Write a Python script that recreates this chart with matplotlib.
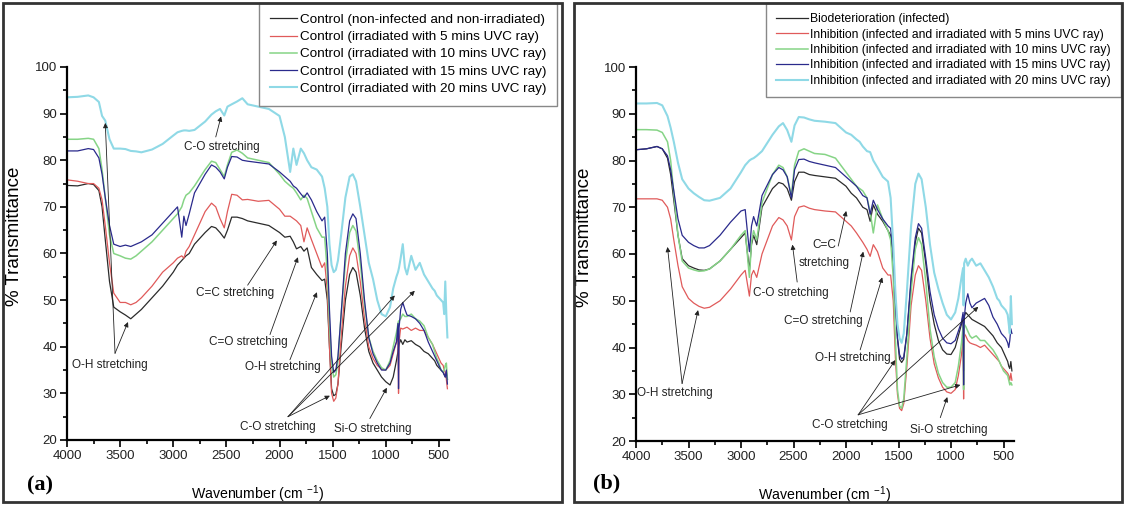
import matplotlib
matplotlib.use("Agg")
import matplotlib.pyplot as plt
from matplotlib.patches import Rectangle
from matplotlib.ticker import MultipleLocator

plt.rcParams['font.family'] = ['Liberation Sans', 'DejaVu Sans']
plt.rcParams['mathtext.default'] = 'regular'

# shared wavenumber grid (cm-1)
wavenumber = [4000, 3900, 3800, 3750, 3700, 3670, 3640, 3600, 3560, 3500,
              3450, 3400, 3350, 3300, 3200, 3100, 3000, 2960, 2920, 2900,
              2880, 2850, 2800, 2700, 2640, 2600, 2560, 2520, 2490, 2450,
              2400, 2350, 2300, 2200, 2100, 2000, 1950, 1900, 1870, 1840,
              1800, 1770, 1740, 1700, 1650, 1600, 1575, 1550, 1530, 1510,
              1490, 1470, 1450, 1420, 1380, 1340, 1310, 1280, 1240, 1200,
              1160, 1120, 1080, 1040, 1000, 960, 930, 900, 885, 880,
              875, 860, 840, 820, 800, 760, 720, 680, 640, 600,
              560, 540, 520, 500, 480, 460, 450, 440, 430, 420]

# panel (a) - controls
a_control = [74.6, 74.5, 75.0, 74.8, 73.5, 70.0, 63.0, 54.0, 48.5, 47.5,
             46.8, 46.0, 47.0, 48.0, 50.5, 53.0, 56.0, 57.5, 58.5, 59.0,
             59.5, 60.0, 62.0, 64.5, 65.8, 65.5, 64.5, 63.3, 65.0, 67.8,
             67.8, 67.5, 67.0, 66.5, 66.0, 64.5, 63.5, 63.7, 62.5, 61.0,
             61.5, 60.5, 61.2, 57.0, 55.5, 54.2, 54.5, 50.0, 40.0, 31.0,
             29.5, 29.8, 32.0, 40.0, 50.0, 55.5, 57.0, 56.0, 51.0, 44.0,
             39.0, 36.5, 35.0, 33.5, 32.5, 31.8, 33.5, 37.0, 39.0, 40.0,
             40.5, 41.5, 40.5, 41.5, 41.0, 41.3, 40.5, 40.0, 39.0, 38.5,
             37.5, 37.0, 36.0, 35.5, 35.0, 34.5, 34.0, 33.5, 34.5, 33.0]
a_uvc5 = [75.8, 75.5, 75.0, 75.0, 74.0, 71.5, 66.0, 58.0, 51.5, 49.5,
          49.5, 49.0, 49.5, 50.5, 53.0, 56.0, 58.0, 59.0, 59.5, 59.0,
          60.5, 61.5, 64.0, 69.0, 70.8, 70.0, 67.5, 65.5, 69.0, 72.7,
          72.5, 71.5, 71.6, 71.2, 71.4, 69.5, 68.0, 68.0, 67.5, 67.0,
          66.0, 62.5, 65.5, 63.0, 60.0, 57.0, 58.0, 52.0, 40.0, 30.0,
          28.3, 29.0, 32.0, 42.0, 53.0, 59.5, 61.2, 60.0, 54.0, 46.0,
          40.0, 37.5, 36.0, 35.2, 35.0, 36.0, 38.5, 41.0, 42.0, 30.0,
          41.0, 44.0, 43.8, 44.0, 44.2, 43.5, 44.0, 43.5, 43.5, 42.0,
          40.5, 39.5, 38.5, 37.5, 36.5, 36.0, 35.0, 34.5, 33.0, 31.0]
a_uvc10 = [84.5, 84.5, 84.7, 84.5, 82.5, 78.0, 72.0, 64.0, 60.0, 59.5,
           59.0, 58.8, 59.5, 60.5, 62.5, 65.0, 67.5, 68.5, 70.0, 71.5,
           72.5, 73.0, 74.5, 78.0, 79.8, 79.5, 78.0, 76.5, 79.0, 81.7,
           82.2, 81.5, 80.5, 80.0, 79.5, 77.0, 75.5, 74.5, 74.0, 73.0,
           71.5, 72.5, 71.8, 69.0, 65.5, 63.5, 63.5, 56.0, 45.0, 36.5,
           33.5, 34.0, 37.0, 47.0, 58.0, 64.5, 66.0, 64.8, 58.0, 49.0,
           42.0, 39.0, 37.0, 35.5, 35.0, 37.0, 40.0, 43.0, 45.0, 45.5,
           45.5, 46.0, 47.0, 46.5, 46.5, 47.0, 46.0, 45.5, 44.5, 42.0,
           40.5, 39.0, 37.5, 36.5, 35.0, 34.5, 35.0, 36.0, 36.5, 33.0]
a_uvc15 = [82.0, 82.0, 82.5, 82.3, 80.5, 77.0, 72.0, 66.0, 62.0, 61.5,
           61.8, 61.5, 62.0, 62.5, 64.0, 66.5, 69.0, 70.0, 63.5, 68.0,
           66.0, 68.5, 73.0, 77.0, 79.0, 78.5, 77.5, 76.0, 78.5, 80.8,
           80.7, 80.0, 79.8, 79.5, 79.2, 77.5, 76.5, 75.5, 74.5, 74.0,
           72.8, 72.0, 73.0, 71.5, 69.0, 67.0, 67.8, 60.0, 48.0, 38.0,
           34.5, 35.0, 38.0, 47.0, 60.0, 67.0, 68.5, 67.5, 60.0, 50.0,
           42.0, 38.5, 36.5, 35.0, 35.0, 36.5, 39.0, 41.0, 45.0, 31.0,
           44.0, 48.0, 49.5, 48.0, 46.8, 46.5, 46.0, 45.0, 43.5, 41.0,
           39.0, 38.0, 37.0, 36.0, 35.0, 34.5, 34.0, 33.5, 35.0, 32.0]
a_uvc20 = [93.5, 93.6, 93.9, 93.5, 92.5, 89.5, 88.5, 84.5, 82.5, 82.5,
           82.4, 82.0, 81.9, 81.7, 82.3, 83.5, 85.3, 86.0, 86.3, 86.4,
           86.4, 86.3, 86.5, 88.3, 89.8, 90.5, 91.0, 89.6, 91.5, 92.0,
           92.6, 93.3, 92.0, 91.5, 91.0, 89.5, 85.0, 77.5, 82.5, 79.0,
           82.5, 81.5, 80.0, 78.5, 78.0, 76.5, 74.0, 70.0, 62.0, 57.5,
           56.0, 56.5, 58.5, 64.0, 72.0, 76.5, 77.0, 75.5, 70.0, 64.0,
           58.0, 54.5, 50.0, 47.0, 46.5, 48.5, 52.5, 55.0, 56.0, 56.5,
           57.0, 59.0, 62.0, 57.0, 55.5, 59.5, 56.5, 58.0, 55.5, 54.0,
           52.5, 52.0, 51.0, 50.5, 50.0, 49.5, 47.0, 54.0, 47.0, 42.0]

# panel (b) - infected / inhibition
b_infected = [82.3, 82.5, 83.0, 82.5, 80.5, 77.0, 71.5, 64.0, 59.0, 57.5,
              57.0, 56.6, 56.5, 56.8, 58.5, 61.0, 63.5, 64.5, 56.5, 62.0,
              64.0, 62.0, 70.0, 74.0, 75.3, 75.0, 74.0, 71.5, 75.5, 77.5,
              77.5, 77.0, 76.8, 76.5, 76.2, 74.5, 73.0, 72.0, 71.0, 70.0,
              69.5, 67.0, 70.5, 68.5, 67.0, 65.0, 64.0, 58.0, 50.0, 42.0,
              37.5, 36.8, 37.5, 43.0, 54.0, 62.5, 65.5, 64.5, 58.0, 50.0,
              45.0, 41.5, 39.5, 38.6, 38.5, 40.0, 42.5, 45.0, 47.0, 35.0,
              46.5, 47.5, 47.0, 46.5, 46.0, 45.5, 45.0, 44.5, 43.5, 42.5,
              41.0, 40.5, 40.0, 39.0, 38.0, 37.0, 36.0, 35.5, 37.0, 35.0]
b_uvc5 = [71.8, 71.8, 71.8, 71.5, 70.0, 67.5, 63.0, 57.5, 53.0, 50.5,
          49.5, 48.8, 48.4, 48.6, 50.0, 52.5, 55.5, 56.5, 51.0, 55.5,
          56.5, 55.0, 60.0, 66.0, 67.8, 67.3, 66.0, 63.0, 68.0, 70.0,
          70.3, 69.8, 69.5, 69.2, 69.0, 67.0, 66.0, 64.5, 63.5, 62.5,
          61.0, 59.5, 62.0, 60.5, 57.0, 55.5, 55.5, 50.0, 38.0, 30.0,
          27.0, 26.5, 28.0, 36.0, 49.0, 55.5, 57.5, 56.5, 50.0, 42.0,
          36.5, 33.5, 31.5, 30.5, 30.2, 31.0, 34.0, 38.5, 42.0, 29.0,
          43.0, 42.5, 41.5, 41.0, 40.8, 40.5, 40.0, 40.5, 39.5, 38.5,
          37.5, 37.0, 36.0, 35.5, 35.0, 34.5, 34.0, 33.0, 34.5, 33.0]
b_uvc10 = [86.6, 86.6, 86.5, 86.0, 84.0, 80.0, 73.0, 64.0, 58.5, 57.0,
           56.6, 56.3, 56.4, 56.8, 58.5, 61.0, 64.0, 65.0, 55.0, 62.5,
           65.0, 63.0, 71.0, 77.0, 79.0, 78.5, 76.5, 72.5, 79.0, 82.0,
           82.5, 82.0, 81.5, 81.3, 80.5, 77.5, 76.0, 74.5, 74.0, 73.5,
           72.0, 69.0, 64.5, 70.5, 67.5, 65.0, 63.0, 55.0, 42.0, 31.0,
           27.5, 27.0, 29.0, 38.0, 52.0, 61.0, 63.5, 62.0, 54.0, 44.0,
           38.0, 34.5, 32.5, 31.5, 31.5, 32.5, 36.0, 41.0, 44.5, 31.0,
           45.0, 44.5, 43.5, 42.5, 42.0, 42.5, 41.5, 41.5, 40.5, 39.5,
           38.0, 37.0, 36.0, 35.0, 34.5, 34.0, 33.0, 32.0, 32.5, 32.0]
b_uvc15 = [82.3, 82.5, 83.0, 82.5, 81.0, 78.0, 73.5, 67.5, 64.0, 62.5,
           61.8, 61.3, 61.3, 61.8, 64.0, 66.8, 69.2, 69.5, 60.5, 66.0,
           68.0, 66.0, 72.5, 77.0, 78.5, 78.0, 76.5, 72.0, 78.0, 80.2,
           80.3, 79.8, 79.5, 79.0, 78.5, 76.5, 75.5, 74.5, 73.5, 72.5,
           72.0, 68.5, 71.5, 69.5, 67.5, 66.0, 65.5, 60.0, 50.0, 42.0,
           38.5, 37.5, 38.0, 43.0, 55.0, 63.5, 66.5, 65.5, 59.0, 52.0,
           47.0, 44.0, 42.0, 41.0, 40.8, 41.5, 43.5, 45.5, 47.5, 32.0,
           46.0, 49.5, 51.5, 49.5, 48.5, 49.5, 50.0, 50.5, 49.0, 46.5,
           45.0, 44.0, 43.0, 42.5, 42.0, 41.0, 40.0, 41.5, 44.0, 43.0]
b_uvc20 = [92.2, 92.2, 92.3, 91.8, 89.5, 87.0, 84.0, 79.5, 76.0, 74.0,
           73.0, 72.2, 71.5, 71.4, 72.0, 74.0, 77.5, 79.0, 80.0, 80.3,
           80.5, 81.0, 82.0, 85.5, 87.3, 88.0, 86.5, 84.0, 87.5, 89.3,
           89.2, 88.8, 88.5, 88.3, 88.0, 86.0, 85.5, 84.5, 84.0, 83.0,
           82.0, 81.8, 80.0, 78.5, 76.5, 75.5, 72.0, 62.0, 52.0, 45.0,
           42.0, 41.0, 43.0, 52.0, 66.0, 75.0, 77.2, 76.0, 70.0, 62.0,
           56.0, 52.5, 49.5, 47.0, 46.0, 47.5, 50.5, 55.0, 57.0, 49.0,
           58.0, 59.0, 57.5, 58.5, 59.0, 57.5, 58.0, 56.5, 55.0, 53.0,
           50.5, 50.0, 49.0, 48.5, 48.0, 47.0, 45.0, 43.0, 51.0, 45.0]

labels_a = ['Control (non-infected and non-irradiated)',
            'Control (irradiated with 5 mins UVC ray)',
            'Control (irradiated with 10 mins UVC ray)',
            'Control (irradiated with 15 mins UVC ray)',
            'Control (irradiated with 20 mins UVC ray)']
labels_b = ['Biodeterioration (infected)',
            'Inhibition (infected and irradiated with 5 mins UVC ray)',
            'Inhibition (infected and irradiated with 10 mins UVC ray)',
            'Inhibition (infected and irradiated with 15 mins UVC ray)',
            'Inhibition (infected and irradiated with 20 mins UVC ray)']

colors = ['#2b2b2b', '#e05a5a', '#86d486', '#2a2a8c', '#8fd9e6']
widths = [0.9, 0.9, 1.1, 0.9, 1.5]


def note(ax, text, pos, tail, tips):
    ax.text(pos[0], pos[1], text, ha='center', va='center', fontsize=8.5,
            color='#222222', linespacing=1.6)
    for tip in tips:
        ax.annotate('', xy=tip, xytext=tail,
                    arrowprops=dict(arrowstyle='-|>', color='#222222', lw=0.6,
                                    mutation_scale=7, shrinkA=0, shrinkB=0))


def style_axes(ax, xmax):
    ax.set_xlim(4000, xmax)
    ax.set_ylim(20, 100)
    ax.xaxis.set_major_locator(MultipleLocator(500))
    ax.xaxis.set_minor_locator(MultipleLocator(250))
    ax.yaxis.set_major_locator(MultipleLocator(10))
    ax.yaxis.set_minor_locator(MultipleLocator(5))
    ax.spines['top'].set_visible(False)
    ax.spines['right'].set_visible(False)
    ax.spines['left'].set_linewidth(1.6)
    ax.spines['bottom'].set_linewidth(1.6)
    ax.tick_params(which='major', direction='out', length=5, width=1.4,
                   labelsize=9.5, pad=2, colors='#222222')
    ax.tick_params(which='minor', direction='out', length=3, width=1.2)
    ax.set_xlabel('Wavenumber (cm $^{-1}$)', fontsize=10.2)
    ax.set_ylabel('% Transmittance', fontsize=13.5)
    ax.xaxis.set_label_coords(0.5, -0.117)
    ax.yaxis.set_label_coords(-0.115, 0.545)
    ax.set_facecolor('none')


fig = plt.figure(figsize=(11.25, 5.05), dpi=100)

# panel frames
fig.patches.append(Rectangle((3 / 1125, 3 / 505), 559 / 1125, 499 / 505,
                             transform=fig.transFigure, fill=False,
                             lw=2, ec='#333333'))
fig.patches.append(Rectangle((574 / 1125, 3 / 505), 548 / 1125, 499 / 505,
                             transform=fig.transFigure, fill=False,
                             lw=2, ec='#333333'))

ax1 = fig.add_axes([67 / 1125, 65 / 505, 382 / 1125, 373 / 505])
ax2 = fig.add_axes([636 / 1125, 64 / 505, 378 / 1125, 374 / 505])

for series, lab, c, w in zip([a_control, a_uvc5, a_uvc10, a_uvc15, a_uvc20],
                             labels_a, colors, widths):
    ax1.plot(wavenumber, series, color=c, lw=w, label=lab)
for series, lab, c, w in zip([b_infected, b_uvc5, b_uvc10, b_uvc15, b_uvc20],
                             labels_b, colors, widths):
    ax2.plot(wavenumber, series, color=c, lw=w, label=lab)

style_axes(ax1, 405)
style_axes(ax2, 400)

# panel (a) band labels
note(ax1, 'C-O stretching', (2540, 82.8), (2600, 85.0), [(2550, 89.4)])
note(ax1, 'C=C stretching', (2420, 51.5), (2300, 53.2), [(2025, 62.8)])
note(ax1, 'C=O stretching', (2297, 41.0), (2090, 42.6), [(1827, 59.2)])
note(ax1, 'O-H stretching', (1968, 35.6), (1902, 37.2), [(1648, 51.7)])
note(ax1, 'O-H stretching', (3595, 36.0), (3548, 38.6), [(3640, 88.0), (3426, 45.3)])
note(ax1, 'C-O stretching', (2015, 22.8), (1920, 25.0),
     [(1526, 29.5), (915, 51.0), (727, 52.0)])
note(ax1, 'Si-O stretching', (1120, 22.4), (1150, 24.6), [(990, 31.2)])

# panel (b) band labels
note(ax2, 'O-H stretching', (3628, 30.3), (3561, 32.3), [(3700, 61.5), (3409, 48.0)])
note(ax2, 'C-O stretching', (2522, 51.7), (2465, 54.0), [(2510, 62.0)])
note(ax2, 'C=C\nstretching', (2205, 60.0), (2074, 61.7), [(1998, 69.2)])
note(ax2, 'C=O stretching', (2217, 45.7), (1960, 47.6), [(1836, 60.5)])
note(ax2, 'O-H stretching', (1931, 37.8), (1865, 39.5), [(1655, 55.0)])
note(ax2, 'C-O stretching', (1960, 23.4), (1884, 25.6),
     [(1531, 37.3), (911, 32.0), (740, 48.7)])
note(ax2, 'Si-O stretching', (1026, 22.4), (1102, 25.0), [(1035, 29.4)])

leg1 = ax1.legend(loc='upper right', bbox_to_anchor=(557 / 1125, 1 - 3 / 505),
                  bbox_transform=fig.transFigure, fontsize=9.7, frameon=True,
                  fancybox=False, edgecolor='#888888', framealpha=1,
                  borderaxespad=0, handlelength=2.0, handletextpad=0.2,
                  labelspacing=0.35, borderpad=0.8)
leg1.get_frame().set_linewidth(1.0)
leg2 = ax2.legend(loc='upper right', bbox_to_anchor=(1121 / 1125, 1 - 3 / 505),
                  bbox_transform=fig.transFigure, fontsize=8.7, frameon=True,
                  fancybox=False, edgecolor='#888888', framealpha=1,
                  borderaxespad=0, handlelength=2.6, handletextpad=0.2,
                  labelspacing=0.28, borderpad=0.85)
leg2.get_frame().set_linewidth(1.0)

fig.text(40 / 1125, 1 - 485 / 505, '(a)', fontsize=16, fontweight='bold',
         family=['Liberation Serif', 'DejaVu Serif'], ha='center', va='center')
fig.text(607 / 1125, 1 - 483 / 505, '(b)', fontsize=16, fontweight='bold',
         family=['Liberation Serif', 'DejaVu Serif'], ha='center', va='center')

fig.savefig('out.png', dpi=100)
